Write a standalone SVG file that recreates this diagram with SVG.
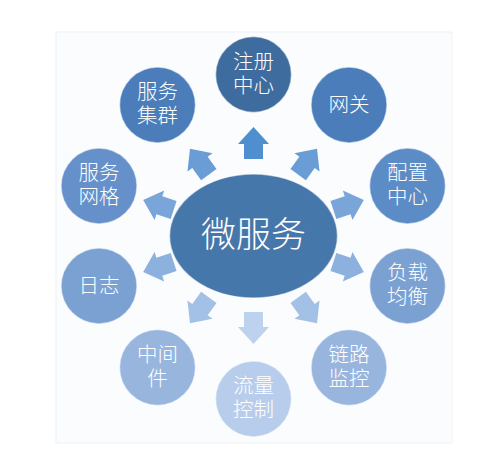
<svg xmlns="http://www.w3.org/2000/svg" width="500" height="461" viewBox="0 0 500 461">
<defs>
<style>
.n{stroke:#ffffff;stroke-opacity:0.55;stroke-width:1.5}
.t{font-family:"Noto Sans CJK SC","Noto Sans",sans-serif;font-weight:300;fill:#ffffff;font-size:20.5px;text-anchor:middle}
.c{font-size:35px}
</style>
<path id="arr" d="M0,-16 L15.5,1 L9.5,1 L9.5,16 L-9.5,16 L-9.5,1 L-15.5,1 Z"/>
</defs>
<rect width="500" height="461" fill="#ffffff"/>
<rect x="56" y="32" width="396" height="411" fill="#fafcfd" stroke="#eef2f5" stroke-width="1"/>
<g id="connectors">
<use href="#arr" transform="translate(253.5,143) rotate(0)" fill="#4f8ecf"/>
<use href="#arr" transform="translate(307.6,161.6) rotate(36)" fill="#6a9cd5"/>
<use href="#arr" transform="translate(348.6,205) rotate(72)" fill="#7aa5d9"/>
<use href="#arr" transform="translate(348.6,267) rotate(108)" fill="#8cb1df"/>
<use href="#arr" transform="translate(307.6,310.4) rotate(144)" fill="#a3c0e6"/>
<use href="#arr" transform="translate(253.5,328) rotate(180)" fill="#bcd2ee"/>
<use href="#arr" transform="translate(199.4,310.4) rotate(216)" fill="#a3c0e6"/>
<use href="#arr" transform="translate(158.4,267) rotate(252)" fill="#8cb1df"/>
<use href="#arr" transform="translate(158.4,205) rotate(288)" fill="#7aa5d9"/>
<use href="#arr" transform="translate(199.4,161.6) rotate(324)" fill="#6a9cd5"/>
</g>
<g id="center">
<ellipse cx="253.5" cy="236" rx="84" ry="62" fill="#4677ab" class="n"/>
<text class="t c" x="253.5" y="247">微服务</text>
</g>
<g id="n-zhuce">
<circle cx="253.5" cy="74.5" r="38" fill="#3f6c9e" class="n"/>
<text class="t" x="253.5" y="69">注册</text><text class="t" x="253.5" y="93">中心</text>
</g>
<g id="n-wangguan">
<circle cx="349" cy="105" r="38" fill="#4a7db9" class="n"/>
<text class="t" x="349" y="112">网关</text>
</g>
<g id="n-peizhi">
<circle cx="407.5" cy="186" r="38" fill="#5c8cc6" class="n"/>
<text class="t" x="407.5" y="180">配置</text><text class="t" x="407.5" y="204">中心</text>
</g>
<g id="n-fuzai">
<circle cx="407.5" cy="286" r="38" fill="#7ba1d3" class="n"/>
<text class="t" x="407.5" y="280">负载</text><text class="t" x="407.5" y="304">均衡</text>
</g>
<g id="n-lianlu">
<circle cx="349" cy="367.5" r="38" fill="#98b5de" class="n"/>
<text class="t" x="349" y="361.5">链路</text><text class="t" x="349" y="385.5">监控</text>
</g>
<g id="n-liuliang">
<circle cx="253.5" cy="399" r="38" fill="#b8cdeb" class="n"/>
<text class="t" x="253.5" y="393">流量</text><text class="t" x="253.5" y="417">控制</text>
</g>
<g id="n-zhongjian">
<circle cx="157.5" cy="367.5" r="38" fill="#98b5de" class="n"/>
<text class="t" x="157.5" y="361.5">中间</text><text class="t" x="157.5" y="385.5">件</text>
</g>
<g id="n-rizhi">
<circle cx="99" cy="286" r="38" fill="#7ba1d3" class="n"/>
<text class="t" x="99" y="293">日志</text>
</g>
<g id="n-wangge">
<circle cx="99" cy="186" r="38" fill="#6590ca" class="n"/>
<text class="t" x="99" y="180">服务</text><text class="t" x="99" y="204">网格</text>
</g>
<g id="n-jiqun">
<circle cx="157.5" cy="105" r="38" fill="#4a7db9" class="n"/>
<text class="t" x="157.5" y="99">服务</text><text class="t" x="157.5" y="123">集群</text>
</g>
</svg>
